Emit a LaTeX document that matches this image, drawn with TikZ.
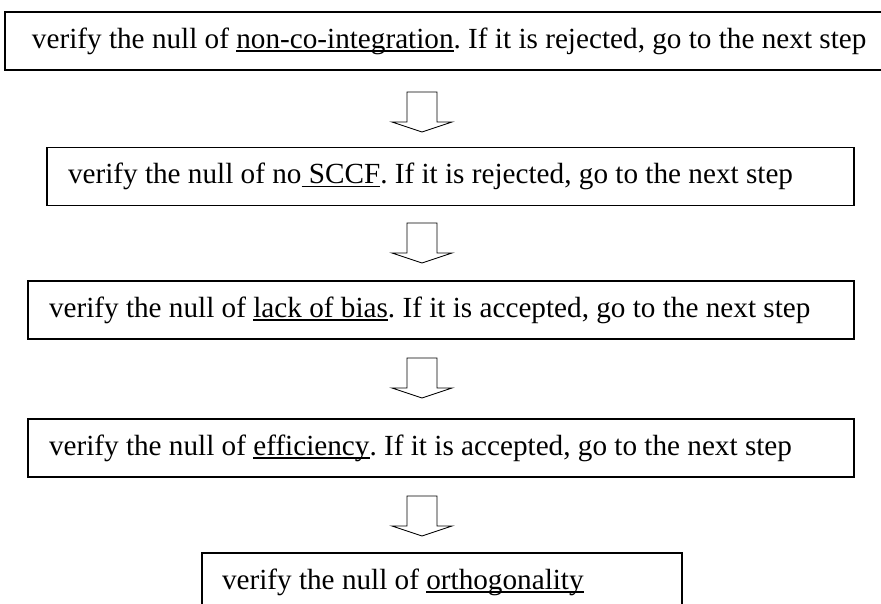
\documentclass[tikz,border=0pt]{standalone}
\usepackage{fontspec}
\setmainfont{Liberation Serif}
\usetikzlibrary{positioning}

\newcommand{\stepuline}[1]{\setbox0=\hbox{#1}\rlap{\rule[-3.5pt]{\wd0}{1.3pt}}\box0}

\begin{document}
\begin{tikzpicture}[x=1pt,y=-1pt,
  stepbox/.style={draw,line width=1.4pt,inner sep=0pt,minimum height=58pt,
    text width=#1,align=flush left,font=\fontsize{29.2}{34}\selectfont,
    execute at begin node=\frenchspacing},
  downarrow/.pic={\draw[line width=0.9pt] (-15,0) -- (-15,30) -- (-30,30) -- (0,40) -- (30,30) -- (15,30) -- (15,0) -- cycle;}]
\useasboundingbox (0,0) rectangle (881,604);
% the five steps
\node[stepbox=879pt] (s1) at (444.5,41) {\hspace*{27pt}verify the null of \stepuline{non-co-integration}. If it is rejected, go to the next step};
\node[stepbox=807pt] (s2) at (450.5,176.5) {\hspace*{21pt}verify the null of no\stepuline{\ SCCF}. If it is rejected, go to the next step};
\node[stepbox=826pt] (s3) at (441,310) {\hspace*{21pt}verify the null of \stepuline{lack of bias}. If it is accepted, go to the next step};
\node[stepbox=826pt] (s4) at (441,448) {\hspace*{21pt}verify the null of \stepuline{efficiency}. If it is accepted, go to the next step};
\node[stepbox=480pt] (s5) at (442,582) {\hspace*{20pt}verify the null of \stepuline{orthogonality}};
% block arrows between them
\pic at (422,92) {downarrow};
\pic at (422,223) {downarrow};
\pic at (422,358) {downarrow};
\pic at (422,496) {downarrow};
\end{tikzpicture}
\end{document}
